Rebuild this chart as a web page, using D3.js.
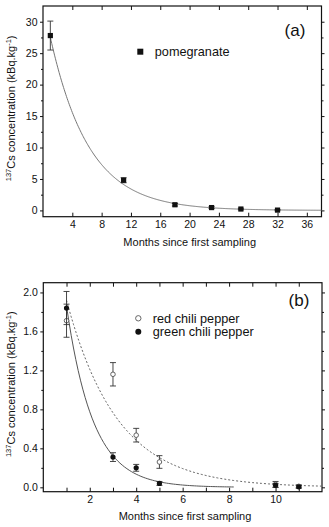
<!DOCTYPE html>
<html>
<head>
<meta charset="utf-8">
<script src="https://cdn.jsdelivr.net/npm/d3@7"></script>
<style>
  body { margin: 0; background: #fff; }
  svg { display: block; font-family: "Liberation Sans", Arial, sans-serif; }
  .domain { display: none; }
</style>
</head>
<body>
<div id="chart"></div>
<script>
// panel (a) - pomegranate
var pomMonths = [1, 11, 18, 23, 27, 32];
var pomValues = [27.8, 4.8, 0.9, 0.45, 0.22, 0.05];
var pomErrors = [2.3, 0.4, 0.2, 0.15, 0.12, 0.1];
var pomFit = {a: 33.3, k: 0.19, from: 1, to: 38};

// panel (b) - chili peppers
var chiliMonths = [1, 3, 4, 5, 10, 11];
var redValues = [1.71, 1.16, 0.535, 0.26, 0.03, 0.01];
var redErrors = [0.17, 0.12, 0.07, 0.065, 0.03, 0.015];
var greenValues = [1.84, 0.31, 0.20, 0.04, 0.02, 0.005];
var greenErrors = [0.17, 0.045, 0.035, 0.02, 0.02, 0.015];
var redFit = {a: 3.04, k: 0.46, from: 1, to: 12};
var greenFit = {a: 4.46, k: 0.875, from: 1, to: 8.2};

var aTicksX = [4, 8, 12, 16, 20, 24, 28, 32, 36];
var aTicksY = [0, 5, 10, 15, 20, 25, 30];
var aMinorY = [2.5, 7.5, 12.5, 17.5, 22.5, 27.5];
var bTicksX = [1, 2, 3, 4, 5, 6, 7, 8, 9, 10, 11];
var bLabelsX = [2, 4, 6, 8, 10, 12];
var bTicksY = [0, 0.4, 0.8, 1.2, 1.6, 2.0];
var bMinorY = [0.2, 0.6, 1.0, 1.4, 1.8];

var W = 329, H = 527;
var svg = d3.select("#chart").append("svg").attr("width", W).attr("height", H);

// sample a fitted decay curve at each 0.1 month
function fitPoints(f) {
    var pts = [];
    var n = Math.round((f.to - f.from) * 10);
    for (var i = 0; i <= n; i++) {
        var t = f.from + i / 10;
        pts.push([t, f.a * Math.exp(-f.k * t)]);
    }
    return pts;
}

function drawPanel(p) {
    var g = svg.append("g");
    var x = d3.scaleLinear().domain(p.xDomain).range([p.left, p.right]);
    var y = d3.scaleLinear().domain(p.yDomain).range([p.bottom, p.top]);

    // frame
    g.append("rect")
        .attr("x", p.left).attr("y", p.top)
        .attr("width", p.right - p.left).attr("height", p.bottom - p.top)
        .attr("fill", "none").attr("stroke", "#111").attr("stroke-width", 1.2);

    // bottom axis: inward ticks, labels below
    var bx = g.append("g").attr("transform", "translate(0," + p.bottom + ")")
        .call(d3.axisBottom(x).tickValues(p.ticksX).tickSizeInner(-4).tickSizeOuter(0).tickPadding(3.5)
            .tickFormat(function(d) { return p.labelsX.indexOf(d) > -1 ? d : ""; }));
    // top axis ticks
    var tx = g.append("g").attr("transform", "translate(0," + p.top + ")")
        .call(d3.axisTop(x).tickValues(p.ticksX).tickSizeInner(-4).tickSizeOuter(0).tickFormat(""));
    // left axis: outward ticks with labels, plus minor
    var ly = g.append("g").attr("transform", "translate(" + p.left + ",0)")
        .call(d3.axisLeft(y).tickValues(p.ticksY).tickSizeInner(3).tickSizeOuter(0).tickPadding(2.5)
            .tickFormat(p.fmt));
    var lm = g.append("g").attr("transform", "translate(" + p.left + ",0)")
        .call(d3.axisLeft(y).tickValues(p.minorY).tickSizeInner(2).tickSizeOuter(0).tickFormat(""));
    // right axis ticks
    var ry = g.append("g").attr("transform", "translate(" + p.right + ",0)")
        .call(d3.axisRight(y).tickValues(p.ticksY).tickSizeInner(3).tickSizeOuter(0).tickFormat(""));
    var rm = g.append("g").attr("transform", "translate(" + p.right + ",0)")
        .call(d3.axisRight(y).tickValues(p.minorY).tickSizeInner(2).tickSizeOuter(0).tickFormat(""));

    g.selectAll(".tick line").attr("stroke", "#111");
    g.selectAll(".tick text").attr("font-size", "10.5px").attr("fill", "#111")
        .attr("font-family", "Liberation Sans, Arial, sans-serif");

    // fitted curves
    p.curves.forEach(function(c) {
        g.append("path")
            .datum(fitPoints(c.fit))
            .attr("fill", "none")
            .attr("stroke", c.color)
            .attr("stroke-width", 1)
            .attr("stroke-dasharray", c.dash)
            .attr("d", d3.line().x(function(d) { return x(d[0]); }).y(function(d) { return y(d[1]); }));
    });

    // error bars and markers
    p.series.forEach(function(s) {
        var rows = s.months.map(function(m, i) { return {x: m, y: s.values[i], e: s.errors[i]}; });
        var eb = g.append("g").attr("stroke", "#333").attr("stroke-width", 0.9);
        rows.forEach(function(d) {
            var cx = x(d.x);
            eb.append("line").attr("x1", cx).attr("x2", cx).attr("y1", y(d.y - d.e)).attr("y2", y(d.y + d.e));
            eb.append("line").attr("x1", cx - 3).attr("x2", cx + 3).attr("y1", y(d.y - d.e)).attr("y2", y(d.y - d.e));
            eb.append("line").attr("x1", cx - 3).attr("x2", cx + 3).attr("y1", y(d.y + d.e)).attr("y2", y(d.y + d.e));
        });
        rows.forEach(function(d) {
            drawMarker(g, s.marker, x(d.x), y(d.y), 2.6);
        });
    });

    // legend
    p.legend.forEach(function(l, i) {
        drawMarker(g, l.marker, p.legendX, p.legendY + i * 13.4, 3);
        g.append("text")
            .attr("x", p.legendX + 14.5).attr("y", p.legendY + i * 13.4 + 4.4)
            .attr("font-size", "12.7px").attr("fill", "#111")
            .text(l.name);
    });

    // panel letter
    g.append("text")
        .attr("x", p.tagX).attr("y", p.tagY)
        .attr("text-anchor", "middle")
        .attr("font-size", "17px").attr("fill", "#111")
        .text(p.tag);

    // x title
    g.append("text")
        .attr("x", p.titleX).attr("y", p.titleY)
        .attr("text-anchor", "middle").attr("font-size", "11px").attr("fill", "#111")
        .text("Months since first sampling");

    // y title with superscripts
    var yt = g.append("text")
        .attr("transform", "translate(15," + ((p.top + p.bottom) / 2 - 3) + ") rotate(-90)")
        .attr("text-anchor", "middle").attr("font-size", "11px").attr("fill", "#111");
    yt.append("tspan").attr("font-size", "7.5px").attr("dy", "-4").text("137");
    yt.append("tspan").attr("dy", "4").text("Cs concentration (kBq.kg");
    yt.append("tspan").attr("font-size", "7.5px").attr("dy", "-4").text("-1");
    yt.append("tspan").attr("dy", "4").text(")");
}

function drawMarker(g, type, cx, cy, r) {
    if (type == "square") {
        g.append("rect").attr("x", cx - r).attr("y", cy - r)
            .attr("width", 2 * r).attr("height", 2 * r).attr("fill", "#111");
    }
    else if (type == "open") {
        g.append("circle").attr("cx", cx).attr("cy", cy).attr("r", r - 0.3)
            .attr("fill", "#fff").attr("stroke", "#555").attr("stroke-width", 0.9);
    }
    else {
        g.append("circle").attr("cx", cx).attr("cy", cy).attr("r", r)
            .attr("fill", "#111");
    }
}

drawPanel({
    left: 43, right: 321.5, top: 6, bottom: 216.7,
    xDomain: [0, 38], yDomain: [-1, 32.5],
    ticksX: aTicksX, labelsX: aTicksX, ticksY: aTicksY, minorY: aMinorY,
    fmt: d3.format("d"),
    curves: [{fit: pomFit, color: "#777", dash: null}],
    series: [{months: pomMonths, values: pomValues, errors: pomErrors, marker: "square"}],
    legend: [{name: "pomegranate", marker: "square"}],
    legendX: 140.3, legendY: 51.7,
    tag: "(a)", tagX: 295, tagY: 36,
    titleX: 189.7, titleY: 245.5
});

drawPanel({
    left: 43.3, right: 322, top: 282.7, bottom: 491.7,
    xDomain: [0, 12], yDomain: [-0.045, 2.1],
    ticksX: bTicksX, labelsX: bLabelsX, ticksY: bTicksY, minorY: bMinorY,
    fmt: d3.format(".1f"),
    curves: [{fit: redFit, color: "#666", dash: "2,2"}, {fit: greenFit, color: "#555", dash: null}],
    series: [
        {months: chiliMonths, values: redValues, errors: redErrors, marker: "open"},
        {months: chiliMonths, values: greenValues, errors: greenErrors, marker: "filled"}
    ],
    legend: [{name: "red chili pepper", marker: "open"}, {name: "green chili pepper", marker: "filled"}],
    legendX: 138.3, legendY: 318.3,
    tag: "(b)", tagX: 299, tagY: 305.5,
    titleX: 185, titleY: 520
});
</script>
</body>
</html>
